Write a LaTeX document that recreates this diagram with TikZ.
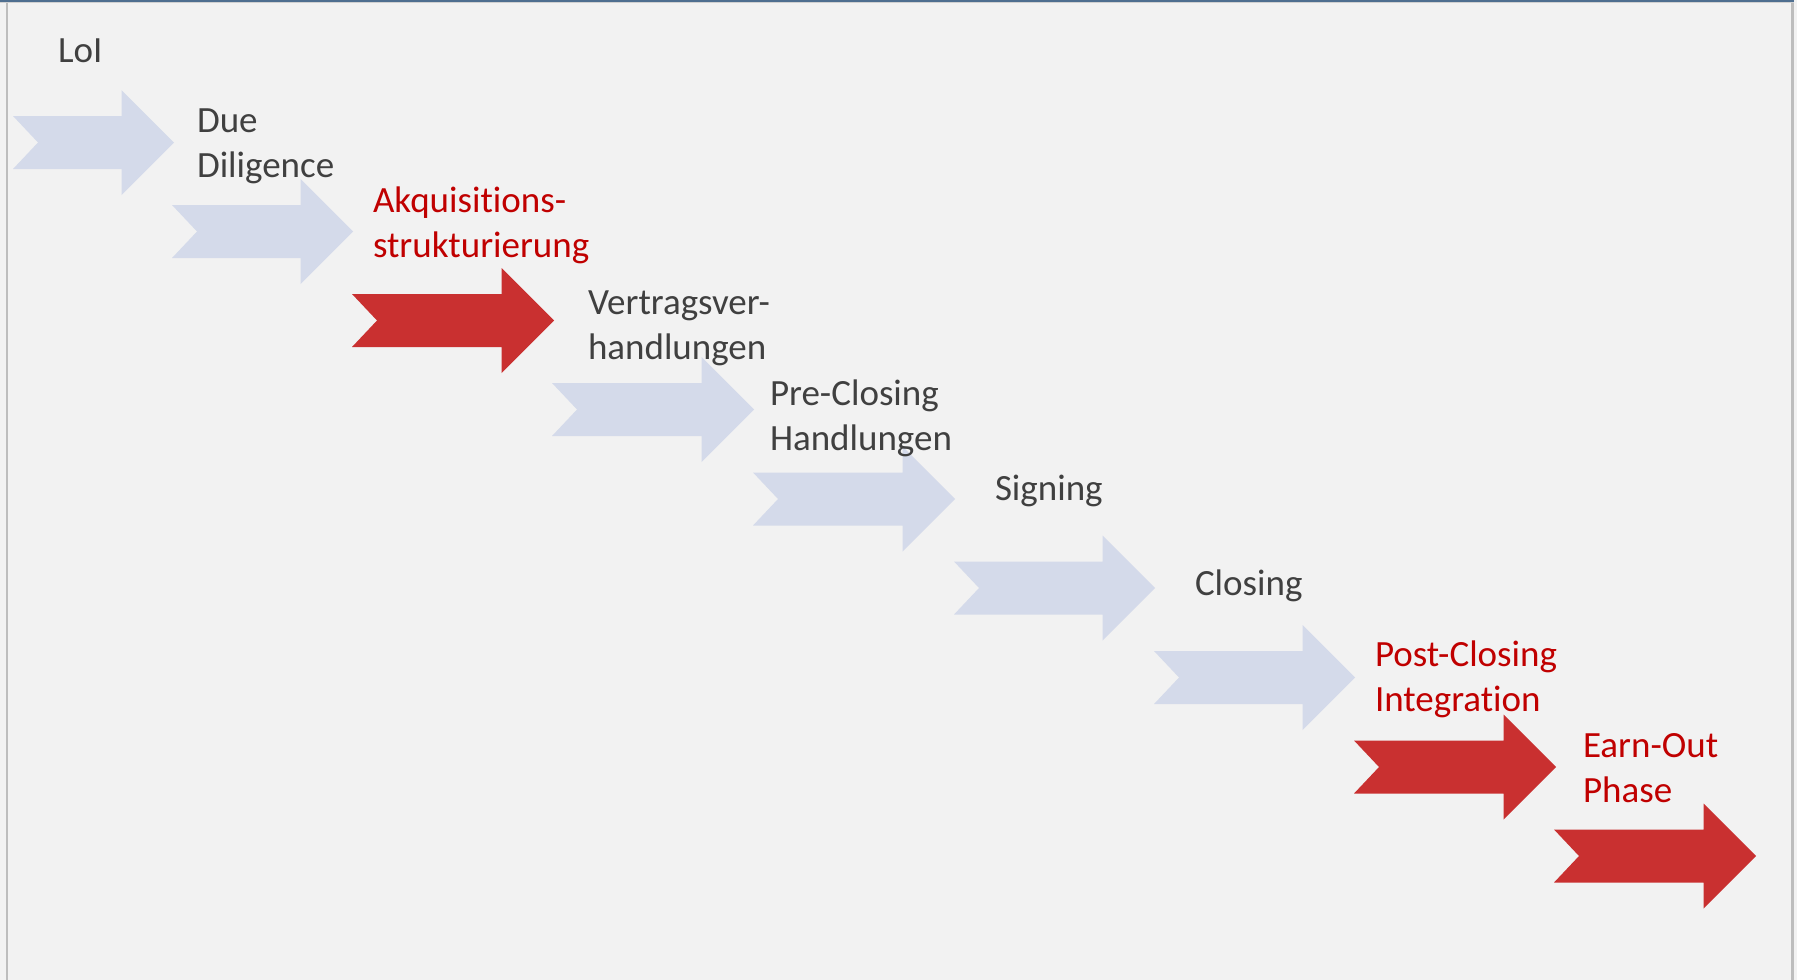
\documentclass[tikz,border=0pt]{standalone}
\usepackage{fontspec}
\setmainfont{Carlito}[RawFeature={-liga;-clig}]
\definecolor{bgc}{HTML}{F2F2F2}
\definecolor{lightarrow}{HTML}{D4DAEA}
\definecolor{redarrow}{HTML}{C93030}
\definecolor{graytext}{HTML}{404040}
\definecolor{redtext}{HTML}{C00000}
\definecolor{topline}{HTML}{4F6F90}
\definecolor{sideline}{HTML}{BDBDBD}
\tikzset{
  lbl/.style={anchor=base west, inner sep=0pt, outer sep=0pt, align=left,
    font=\fontsize{37}{45}\selectfont},
  graylbl/.style={lbl, text=graytext},
  redlbl/.style={lbl, text=redtext},
  lightfill/.style={fill=lightarrow, draw=none},
  redfill/.style={fill=redarrow, draw=none}
}
% #1 style, #2 tail x, #3 tip x, #4 centre y
\newcommand{\phasearrow}[4]{%
  \fill[#1] (#2,#4-26.5) -- (#3-52.5,#4-26.5) -- (#3-52.5,#4-52.5) -- (#3,#4)
    -- (#3-52.5,#4+52.5) -- (#3-52.5,#4+26.5) -- (#2,#4+26.5) -- (#2+25,#4) -- cycle;}
\begin{document}
\begin{tikzpicture}[x=1pt,y=-1pt]
\useasboundingbox (0,0) rectangle (1797,980);
\fill[bgc] (0,0) rectangle (1797,980);
% frame
\fill[sideline] (5.5,0) rectangle (7.5,980);
\fill[sideline] (1791,0) rectangle (1793.5,980);
\fill[topline] (0,0) rectangle (1793.5,1.6);
\fill[sideline!70] (0,1.6) rectangle (1793.5,2.8);
% arrows
\phasearrow{lightfill}{13}{174}{142.5}
\phasearrow{lightfill}{172}{353}{231.5}
\phasearrow{redfill}{352}{554}{320.5}
\phasearrow{lightfill}{552}{754}{409.5}
\phasearrow{lightfill}{753}{955}{499}
\phasearrow{lightfill}{954}{1155}{588}
\phasearrow{lightfill}{1154}{1355}{677.5}
\phasearrow{redfill}{1354}{1556}{767}
\phasearrow{redfill}{1554}{1756}{856}
% labels (base = baseline of last line)
\node[graylbl] (loi) at (58,62) {LoI};
\node[graylbl] (dd) at (197,177) {Due\\Diligence};
\node[redlbl] (akq) at (373,257.5) {Akquisitions-\\strukturierung};
\node[graylbl] (vv) at (588,359) {Vertragsver-\\handlungen};
\node[graylbl] (pre) at (770,450) {Pre-Closing\\Handlungen};
\node[graylbl] (sig) at (995,500) {Signing};
\node[graylbl] (clo) at (1195,595) {Closing};
\node[redlbl] (post) at (1375,711) {Post-Closing\\Integration};
\node[redlbl] (earn) at (1583,802) {Earn-Out\\Phase};
\end{tikzpicture}
\end{document}
